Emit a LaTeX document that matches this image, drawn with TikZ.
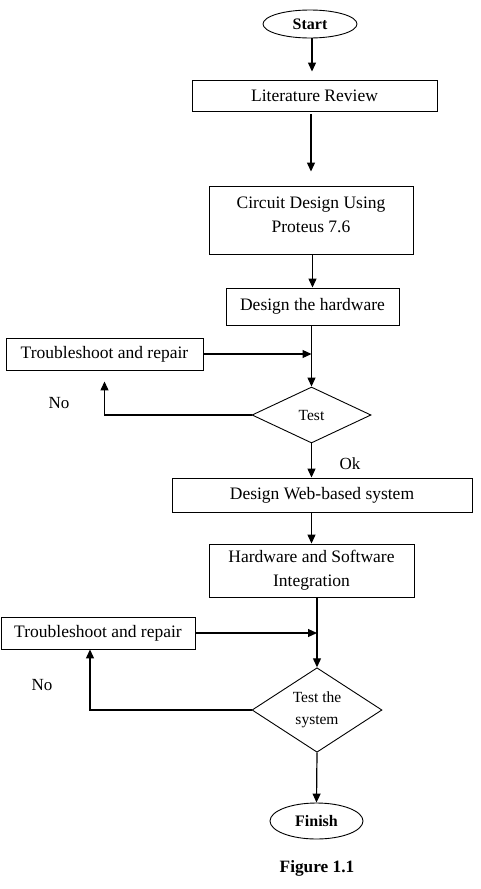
\documentclass[tikz,border=0pt]{standalone}
\usepackage{fontspec}
\setmainfont{Liberation Serif}
\usetikzlibrary{shapes.geometric,arrows.meta}
\begin{document}
\begin{tikzpicture}[x=1pt,y=-1pt,
  box/.style={draw,line width=0.9pt,inner sep=0pt,align=center,font=\fontsize{17.5}{24}\selectfont},
  oval/.style={draw,ellipse,line width=0.9pt,inner sep=0pt,font=\fontsize{16}{19}\selectfont\bfseries},
  dec/.style={draw,diamond,line width=0.9pt,inner sep=0pt,align=center,font=\fontsize{15.5}{22}\selectfont},
  arr/.style={line width=1.2pt,-{Triangle[length=9pt,width=8pt]}},
  lbl/.style={inner sep=0pt,font=\fontsize{17}{20}\selectfont}]
\path[use as bounding box,fill=white] (0,0) rectangle (480,889);
\node[oval,minimum width=94,minimum height=28] (start) at (310,24) {Start};
\node[box,minimum width=245,minimum height=31] (lit) at (314.5,95.5) {Literature Review};
\node[box,minimum width=204,minimum height=68,text depth=10pt] (circ) at (311,220) {Circuit Design Using\\Proteus 7.6};
\node[box,minimum width=173,minimum height=37] (hw) at (312.5,306.5) {Design the hardware};
\node[box,minimum width=197,minimum height=32] (ts1) at (104.5,354) {Troubleshoot and repair};
\node[dec,minimum width=119,minimum height=56] (test1) at (311.5,415) {Test};
\node[box,minimum width=300,minimum height=34] (web) at (322,495) {Design Web-based system};
\node[box,minimum width=205,minimum height=53] (hsw) at (311.5,570.5) {Hardware and Software\\Integration};
\node[box,minimum width=194,minimum height=32] (ts2) at (98,633) {Troubleshoot and repair};
\node[dec,minimum width=130,minimum height=84] (test2) at (317,710) {Test the\\system};
\node[oval,minimum width=93,minimum height=36] (finish) at (316.5,821) {Finish};
\node[inner sep=0pt,font=\fontsize{17.3}{20}\selectfont\bfseries] (fig) at (317,868) {Figure 1.1};
\node[lbl] (no1) at (59,403) {No};
\node[lbl] (ok1) at (350,464) {Ok};
\node[lbl] (no2) at (42,685) {No};
% connectors
\draw[arr,shorten >=8pt] (start.south -| 312,0) -- (lit.north -| 312,0);
\draw[arr,shorten <=3pt,shorten >=14pt] (lit.south -| circ.north) -- (circ.north);
\draw[arr] (circ.south -| hw.north) -- (hw.north);
\draw[arr] (hw.south -| test1.north) -- (test1.north);
\draw[arr] (ts1.east) -- (ts1.east -| test1.north);
\draw[arr,shorten >=11pt] (test1.west) -| (ts1.south);
\draw[arr] (test1.south) -- (test1.south |- web.north);
\draw[arr] (web.south -| hsw.north) -- (hsw.north);
\draw[arr] (hsw.south -| test2.north) -- (test2.north);
\draw[arr] (ts2.east) -- (ts2.east -| test2.north);
\draw[arr] (test2.west) -| ([xshift=-8pt]ts2.south);
\draw[arr] (test2.south) -- (finish.north);
\end{tikzpicture}
\end{document}
